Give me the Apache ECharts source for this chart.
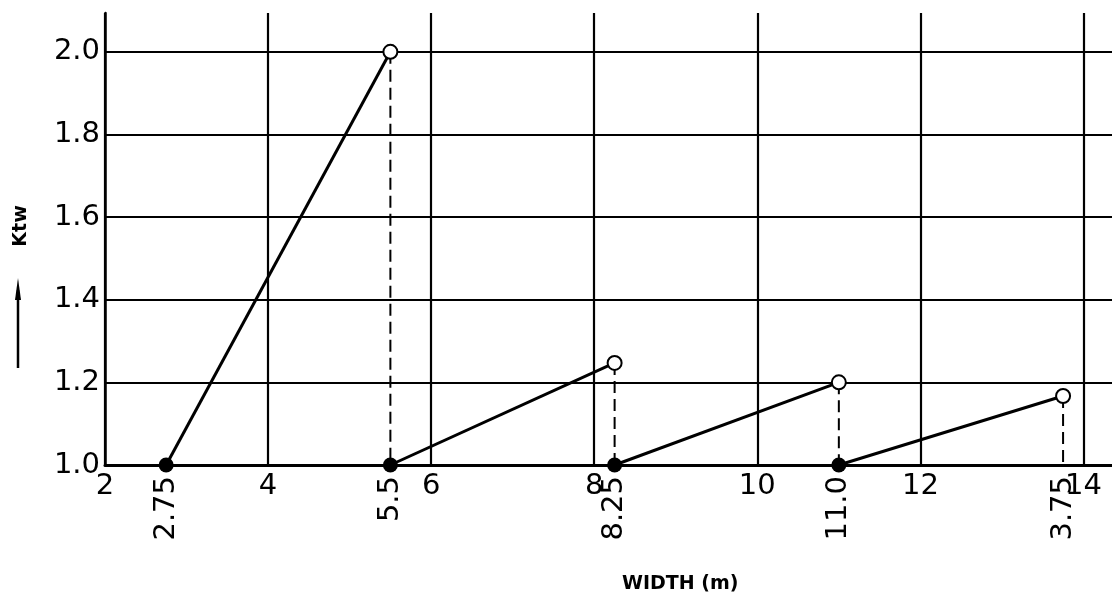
<!DOCTYPE html>
<html>
<head>
<meta charset="utf-8">
<script src="https://cdn.jsdelivr.net/npm/echarts@6/dist/echarts.min.js"></script>
<style>
  html, body { margin: 0; padding: 0; background: #fff; }
  #chart { width: 1112px; height: 598px; }
</style>
</head>
<body>
<div id="chart"></div>
<script>
// width at the start of each step (filled dots, Ktw = 1.0)
const stepStart = [2.75, 5.5, 8.25, 11.0];
// width at the end of each step (open circles)
const stepEnd = [5.5, 8.25, 11.0, 13.75];
// Ktw reached at the end of each step
const ktwEnd = [2.0, 1.247, 1.2, 1.167];
const ktwBase = 1.0;
// rotated labels under the axis, as printed
const stepLabels = ['2.75', '5.5', '8.25', '11.0', '3.75'];
const stepLabelValues = [2.75, 5.5, 8.25, 11.0, 13.75];

const FONT = 'DejaVu Sans';
let myChart = echarts.init(document.getElementById('chart'));

const series = [];
// ramps: solid line from base point up to end point
stepStart.forEach((x0, i) => {
  series.push({
    type: 'line',
    xAxisIndex: 0,
    data: [[x0, ktwBase], [stepEnd[i], ktwEnd[i]]],
    symbol: 'none',
    lineStyle: { color: '#000', width: 3 },
    z: 3,
    silent: true
  });
});
// dashed drops from each open circle down to the axis
stepEnd.forEach((x, i) => {
  series.push({
    type: 'line',
    xAxisIndex: 0,
    data: [[x, ktwEnd[i]], [x, ktwBase]],
    symbol: 'none',
    lineStyle: { color: '#000', width: 2, type: [12, 6] },
    z: 3,
    silent: true
  });
});
// filled dots
series.push({
  type: 'scatter',
  xAxisIndex: 0,
  data: stepStart.map(x => [x, ktwBase]),
  symbol: 'circle',
  symbolSize: 15,
  itemStyle: { color: '#000', opacity: 1 },
  z: 5
});
// open circles
series.push({
  type: 'scatter',
  xAxisIndex: 0,
  data: stepEnd.map((x, i) => [x, ktwEnd[i]]),
  symbol: 'circle',
  symbolSize: 14,
  itemStyle: { color: '#fff', borderColor: '#000', borderWidth: 2, opacity: 1 },
  z: 6
});

const option = {
  backgroundColor: '#fff',
  animation: false,
  grid: { left: 105, right: 0, top: 13, bottom: 133, containLabel: false },
  xAxis: [
    {
      type: 'value',
      min: 2,
      max: 14.35,
      interval: 2,
      axisLine: { show: true, lineStyle: { color: '#000', width: 3 } },
      axisTick: { show: false },
      splitLine: { show: true, showMaxLine: false, lineStyle: { color: '#000', width: 2.2 } },
      axisLabel: {
        showMaxLabel: false,
        margin: 7,
        color: '#000',
        fontFamily: FONT,
        fontSize: 29
      }
    },
    {
      type: 'value',
      position: 'bottom',
      min: 2,
      max: 14.35,
      axisLine: { show: false },
      axisTick: { show: false },
      splitLine: { show: false },
      axisLabel: {
        customValues: stepLabelValues,
        formatter: v => {
          const i = stepLabelValues.findIndex(s => Math.abs(s - v) < 1e-6);
          return i >= 0 ? stepLabels[i] : '';
        },
        rotate: 90,
        margin: 11,
        color: '#000',
        fontFamily: FONT,
        fontSize: 29
      }
    }
  ],
  yAxis: {
    type: 'value',
    min: 1.0,
    max: 2.094,
    interval: 0.2,
    axisLine: { show: true, lineStyle: { color: '#000', width: 2.5 } },
    axisTick: { show: false },
    splitLine: { show: true, showMaxLine: false, lineStyle: { color: '#000', width: 2.2 } },
    axisLabel: {
      showMaxLabel: false,
      margin: 5,
      color: '#000',
      fontFamily: FONT,
      fontSize: 29,
      formatter: v => v.toFixed(1)
    }
  },
  graphic: [
    {
      type: 'text',
      left: 622,
      top: 575,
      style: { text: 'WIDTH (m)', font: 'bold 19px "DejaVu Sans"', fill: '#000' }
    },
    {
      type: 'text',
      x: 21,
      y: 226,
      rotation: Math.PI / 2,
      style: { text: 'Ktw', font: 'bold 19px "DejaVu Sans"', fill: '#000', align: 'center', verticalAlign: 'middle' }
    },
    {
      type: 'line',
      shape: { x1: 18, y1: 368, x2: 18, y2: 290 },
      style: { stroke: '#000', lineWidth: 2.5 }
    },
    {
      type: 'polygon',
      shape: { points: [[18, 278], [15, 300], [21, 300]] },
      style: { fill: '#000' }
    }
  ],
  series: series
};

myChart.setOption(option);
</script>
</body>
</html>
